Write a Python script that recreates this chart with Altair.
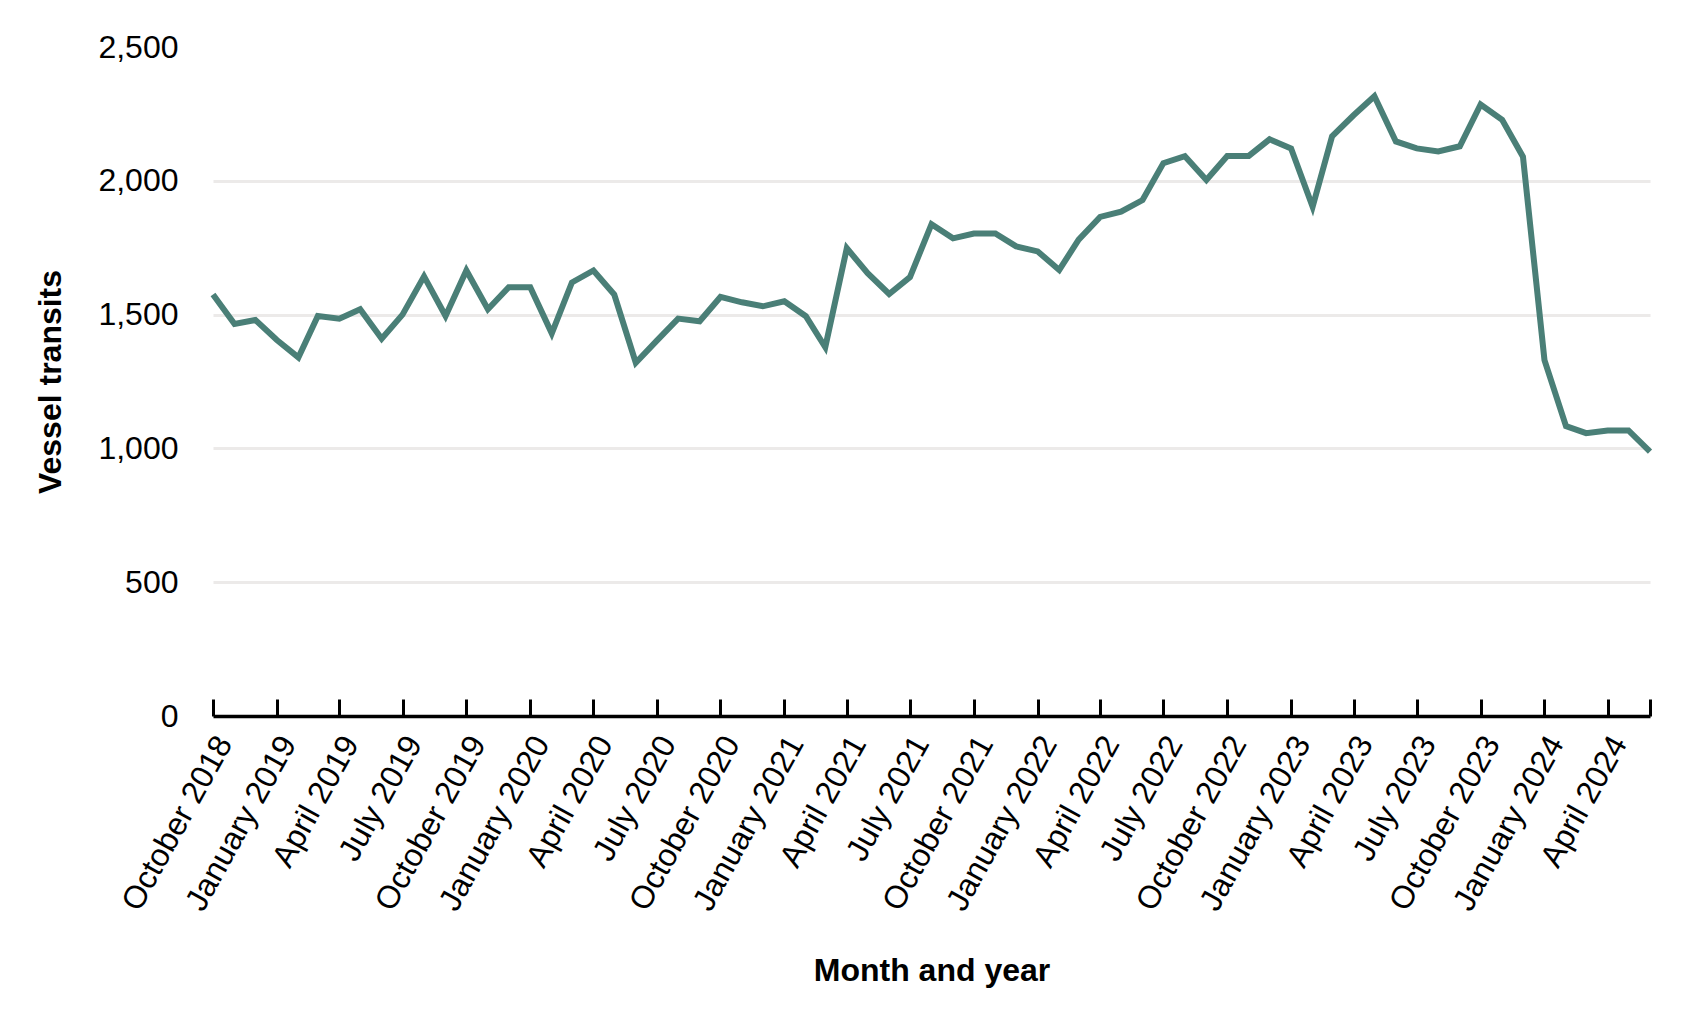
import altair as alt
import pandas as pd

# Monthly vessel transits, October 2018 - June 2024
months = pd.date_range("2018-10-01", "2024-06-01", freq="MS")
transits = [
    1575, 1465, 1480,                                                   # 2018 Oct-Dec
    1405, 1340, 1495, 1485, 1520, 1410, 1500, 1643, 1495, 1665, 1520, 1602,  # 2019
    1602, 1430, 1620, 1665, 1575, 1320, 1402, 1485, 1475, 1566, 1546, 1531,  # 2020
    1550, 1494, 1378, 1748, 1655, 1577, 1640, 1838, 1785, 1803, 1803, 1755,  # 2021
    1736, 1667, 1780, 1865, 1885, 1928, 2066, 2092, 2003, 2093, 2093, 2155,  # 2022
    2121, 1903, 2166, 2245, 2316, 2147, 2121, 2110, 2129, 2285, 2228, 2090,  # 2023
    1330, 1083, 1057, 1067, 1067, 988,                                   # 2024 Jan-Jun
]
tick_years = [2018, 2019, 2019, 2019, 2019, 2020, 2020, 2020, 2020, 2021, 2021, 2021,
              2021, 2022, 2022, 2022, 2022, 2023, 2023, 2023, 2023, 2024, 2024, 2024]
tick_months = [10, 1, 4, 7, 10, 1, 4, 7, 10, 1, 4, 7,
               10, 1, 4, 7, 10, 1, 4, 7, 10, 1, 4, 6]
y_ticks = [0, 500, 1000, 1500, 2000, 2500]

df = pd.DataFrame({"month": months, "transits": transits})

FONT = "Liberation Sans"

x_axis = alt.Axis(
    values=[alt.DateTime(year=y, month=m, date=1) for y, m in zip(tick_years, tick_months)],
    labelExpr="month(datum.value) == 5 ? '' : timeFormat(datum.value, '%B %Y')",
    labelAngle=-61,
    labelAlign="right",
    labelBaseline="middle",
    labelOffset=11,
    labelPadding=39,
    labelFontSize=32,
    labelColor="black",
    labelFont=FONT,
    labelLimit=0,
    labelOverlap=False,
    labelFlush=False,
    ticks=True,
    tickSize={"expr": "-17"},
    tickWidth=3,
    tickColor="black",
    domain=True,
    domainColor="black",
    domainWidth=3.3,
    grid=False,
    title="Month and year",
    titleFontSize=32,
    titleFont=FONT,
    titleFontWeight="bold",
    titleColor="black",
    titleY=254,
    titleBaseline="middle",
)

y_axis = alt.Axis(
    values=y_ticks,
    format=",d",
    labelFontSize=32,
    labelFont=FONT,
    labelColor="black",
    labelPadding=35,
    ticks=False,
    domain=False,
    grid=True,
    gridColor="#ECEAE9",
    gridWidth=3,
    gridOpacity={"condition": {"test": "datum.value == 0 || datum.value == 2500", "value": 0}, "value": 1},
    title="Vessel transits",
    titleFontSize=32,
    titleFont=FONT,
    titleFontWeight="bold",
    titleColor="black",
    titleX=-163,
    titleBaseline="middle",
)

chart = (
    alt.Chart(df)
    .mark_line(color="#4a7f77", strokeWidth=6)
    .encode(
        x=alt.X("month:T", axis=x_axis, scale=alt.Scale(nice=False)),
        y=alt.Y("transits:Q", axis=y_axis, scale=alt.Scale(domain=[0, 2500], nice=False)),
    )
    .properties(
        width=1437,
        height=669,
        autosize=alt.AutoSizeParams(type="none"),
        padding={"left": 205, "top": 39, "right": 30, "bottom": 290},
        background="white",
    )
    .configure_view(stroke=None)
)

chart.save("out.html", embed_options={"renderer": "svg", "actions": False})
